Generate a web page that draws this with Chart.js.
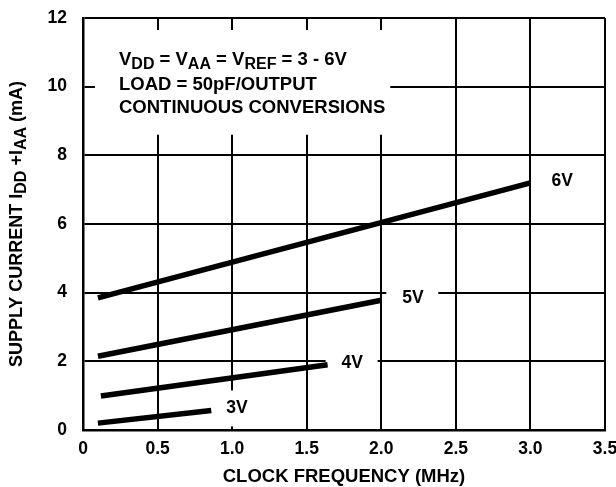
<!DOCTYPE html>
<html>
<head>
<meta charset="utf-8">
<script src="https://cdn.jsdelivr.net/npm/chart.js@4/dist/chart.umd.min.js"></script>
<style>
    html, body { margin: 0; padding: 0; background: #fff; }
    #wrap { width: 616px; height: 487px; }
</style>
</head>
<body>
<div id="wrap"><canvas id="chart" width="616" height="487"></canvas></div>
<script>
// Data
const seriesNames = ['6V', '5V', '4V', '3V'];
const freq6V = [0.1, 3.0];
const current6V = [3.85, 7.2];
const freq5V = [0.1, 2.0];
const current5V = [2.15, 3.78];
const freq4V = [0.12, 1.64];
const current4V = [0.99, 1.9];
const freq3V = [0.1, 0.86];
const current3V = [0.2, 0.57];
const xTicks = [0, 0.5, 1.0, 1.5, 2.0, 2.5, 3.0, 3.5];
const yTicks = [0, 2, 4, 6, 8, 10, 12];

const FONT = '"Liberation Sans", Arial, sans-serif';
const TICK = 17.5;
const BIG = 18.5;
const SMALL = 16;

// Label offsets past the end of each line (px)
const labelGap = [21, 21, 14, 15];

function toPoints(xs, ys) {
    return xs.map((x, i) => ({ x: x, y: ys[i] }));
}

/**
 * Draws a line of text made of segments, some of which are subscripts.
 */
function drawRich(ctx, parts, x, y, align, size) {
    const widths = parts.map(p => {
        ctx.font = 'bold ' + (p.sub ? SMALL : size) + 'px ' + FONT;
        return ctx.measureText(p.t).width;
    });
    const total = widths.reduce((a, b) => a + b, 0);
    let cx = align === 'center' ? x - total / 2 : x;
    parts.forEach((p, i) => {
        ctx.font = 'bold ' + (p.sub ? SMALL : size) + 'px ' + FONT;
        ctx.fillText(p.t, cx, p.sub ? y + 5 : y);
        cx += widths[i];
    });
}

const overlayPlugin = {
    id: 'overlay',
    beforeDatasetsDraw(chart) {
        const ctx = chart.ctx;
        const xs = chart.scales.x;
        const ys = chart.scales.y;
        ctx.save();
        ctx.fillStyle = '#fff';
        // note box over the grid
        ctx.fillRect(xs.getPixelForValue(0.08), ys.getPixelForValue(11.65),
            xs.getPixelForValue(2.06) - xs.getPixelForValue(0.08),
            ys.getPixelForValue(8.6) - ys.getPixelForValue(11.65));
        // white patches behind the series labels
        chart.data.datasets.forEach((ds, i) => {
            const last = ds.data[ds.data.length - 1];
            const px = xs.getPixelForValue(last.x) + labelGap[i] + 10;
            const py = ys.getPixelForValue(last.y) - 2;
            ctx.fillRect(px - 26, py - 18, 52, 36);
        });
        ctx.restore();
    },
    afterDatasetsDraw(chart) {
        const ctx = chart.ctx;
        const xs = chart.scales.x;
        const ys = chart.scales.y;
        ctx.save();
        ctx.fillStyle = '#000';
        ctx.textBaseline = 'middle';
        ctx.textAlign = 'left';

        // series labels
        ctx.font = 'bold ' + TICK + 'px ' + FONT;
        chart.data.datasets.forEach((ds, i) => {
            const last = ds.data[ds.data.length - 1];
            ctx.fillText(seriesNames[i], xs.getPixelForValue(last.x) + labelGap[i],
                ys.getPixelForValue(last.y) - 2);
        });

        // note text
        const nx = 119;
        drawRich(ctx, [
            { t: 'V' }, { t: 'DD', sub: true }, { t: ' = V' }, { t: 'AA', sub: true },
            { t: ' = V' }, { t: 'REF', sub: true }, { t: ' = 3 - 6V' }
        ], nx, 60, 'left', BIG);
        ctx.font = 'bold ' + BIG + 'px ' + FONT;
        ctx.fillText('LOAD = 50pF/OUTPUT', nx, 85);
        ctx.fillText('CONTINUOUS CONVERSIONS', nx, 108);

        // x axis title
        const midX = (chart.chartArea.left + chart.chartArea.right) / 2;
        ctx.font = 'bold 18.5px ' + FONT;
        const w = ctx.measureText('CLOCK FREQUENCY (MHz)').width;
        ctx.fillText('CLOCK FREQUENCY (MHz)', midX - w / 2, 477);

        // y axis title (rotated, with subscripts)
        const midY = (chart.chartArea.top + chart.chartArea.bottom) / 2;
        ctx.translate(17, midY);
        ctx.rotate(-Math.PI / 2);
        drawRich(ctx, [
            { t: 'SUPPLY CURRENT I' }, { t: 'DD', sub: true }, { t: ' +I' },
            { t: 'AA', sub: true }, { t: ' (mA)' }
        ], 0, 0, 'center', 18);
        ctx.restore();
    }
};

const lineStyle = {
    borderColor: '#000',
    borderWidth: 5.5,
    borderCapStyle: 'butt',
    pointRadius: 0,
    fill: false,
    tension: 0
};

new Chart(document.getElementById('chart'), {
    type: 'line',
    data: {
        datasets: [
            Object.assign({ label: seriesNames[0], data: toPoints(freq6V, current6V) }, lineStyle),
            Object.assign({ label: seriesNames[1], data: toPoints(freq5V, current5V) }, lineStyle),
            Object.assign({ label: seriesNames[2], data: toPoints(freq4V, current4V) }, lineStyle),
            Object.assign({ label: seriesNames[3], data: toPoints(freq3V, current3V) }, lineStyle)
        ]
    },
    options: {
        responsive: false,
        animation: false,
        layout: { padding: { top: 18, right: 11, left: 0, bottom: 0 } },
        plugins: {
            legend: { display: false },
            tooltip: { enabled: false }
        },
        scales: {
            x: {
                type: 'linear',
                min: 0,
                max: 3.5,
                afterBuildTicks: (scale) => { scale.ticks = xTicks.map(v => ({ value: v })); },
                afterFit: (scale) => {
                    scale.height = 57;
                    scale.paddingLeft = 0;
                    scale.paddingRight = 0;
                },
                grid: { color: '#000', lineWidth: 2, drawTicks: false },
                border: { color: '#000', width: 2.5 },
                ticks: {
                    color: '#000',
                    padding: 9,
                    font: { family: FONT, size: TICK, weight: 'bold' },
                    callback: (v) => v === 0 ? '0' : v.toFixed(1)
                }
            },
            y: {
                min: 0,
                max: 12,
                afterBuildTicks: (scale) => { scale.ticks = yTicks.map(v => ({ value: v })); },
                afterFit: (scale) => {
                    scale.width = 83;
                    scale.paddingTop = 0;
                    scale.paddingBottom = 0;
                },
                grid: { color: '#000', lineWidth: 2, drawTicks: false },
                border: { color: '#000', width: 2.5 },
                ticks: {
                    color: '#000',
                    padding: 16,
                    font: { family: FONT, size: TICK, weight: 'bold' }
                }
            }
        }
    },
    plugins: [overlayPlugin]
});
</script>
</body>
</html>
